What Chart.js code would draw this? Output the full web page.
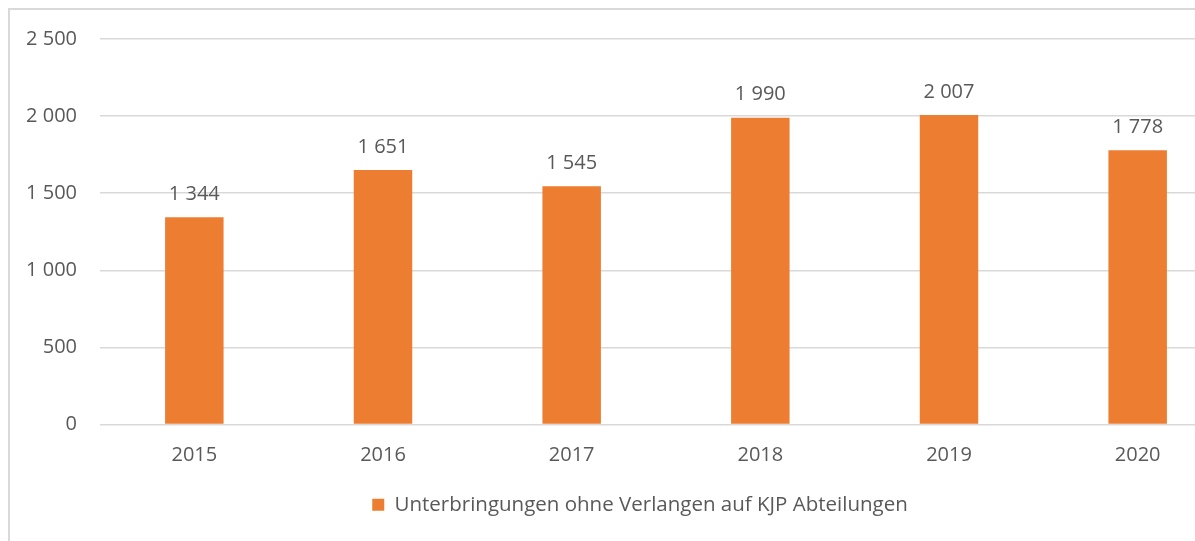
<!DOCTYPE html>
<html>
<head>
<meta charset="utf-8">
<script src="https://cdn.jsdelivr.net/npm/chart.js@4"></script>
<style>
    html, body { margin: 0; padding: 0; background: #fff; overflow: hidden; }
    #frame {
        position: absolute; left: 8px; top: 8px;
        width: 1232px; height: 560px;
        border: 2px solid #d9d9d9;
    }
    canvas { display: block; position: absolute; left: 0; top: -6px; }
</style>
</head>
<body>
<div id="frame"><canvas id="chart" width="1232" height="566"></canvas></div>
<script>
const years = ['2015', '2016', '2017', '2018', '2019', '2020'];
const placements = [1344, 1651, 1545, 1990, 2007, 1778];
const seriesLabel = 'Unterbringungen ohne Verlangen auf KJP Abteilungen';
const yTicks = [0, 500, 1000, 1500, 2000, 2500];

const gray = '#595959';
const orange = '#ED7D31';
const fontFamily = '"Open Sans", sans-serif';

function fmt(v) {
    return String(v).replace(/\B(?=(\d{3})+(?!\d))/g, ' ');
}

// draws the value above each bar
const valueLabels = {
    id: 'valueLabels',
    afterDatasetsDraw(chart) {
        const ctx = chart.ctx;
        const meta = chart.getDatasetMeta(0);
        ctx.save();
        ctx.font = '20px ' + fontFamily;
        ctx.fillStyle = gray;
        ctx.textAlign = 'center';
        ctx.textBaseline = 'middle';
        meta.data.forEach((bar, i) => {
            ctx.fillText(fmt(placements[i]), bar.x, bar.y - 23);
        });
        ctx.restore();
    }
};

// legend sits a bit right of the canvas centre in the original
const legendShift = {
    id: 'legendShift',
    afterLayout(chart) {
        chart.legend.left += 19;
        chart.legend.right += 19;
    }
};

new Chart(document.getElementById('chart'), {
    type: 'bar',
    data: {
        labels: years,
        datasets: [{
            label: seriesLabel,
            data: placements,
            backgroundColor: orange,
            barPercentage: 0.31,
            categoryPercentage: 1
        }]
    },
    options: {
        responsive: false,
        animation: false,
        layout: { padding: { top: 22, right: 10, bottom: 45, left: 0 } },
        plugins: {
            tooltip: { enabled: false },
            legend: {
                position: 'bottom',
                labels: {
                    color: gray,
                    font: { family: fontFamily, size: 20.5 },
                    boxWidth: 12,
                    boxHeight: 12,
                    padding: 10
                }
            }
        },
        scales: {
            x: {
                grid: { display: false },
                border: { display: false },
                ticks: { color: gray, font: { family: fontFamily, size: 20 }, padding: 11 },
                afterFit(scale) { scale.height = 60; }
            },
            y: {
                min: 0,
                max: 2500,
                afterBuildTicks(scale) { scale.ticks = yTicks.map(v => ({ value: v })); },
                grid: { color: '#d9d9d9', lineWidth: 1.5, drawTicks: false },
                border: { display: false },
                ticks: {
                    color: gray,
                    font: { family: fontFamily, size: 20 },
                    padding: 23,
                    callback: v => fmt(v)
                },
                afterFit(scale) { scale.width = 90; }
            }
        }
    },
    plugins: [valueLabels, legendShift]
});
</script>
</body>
</html>
